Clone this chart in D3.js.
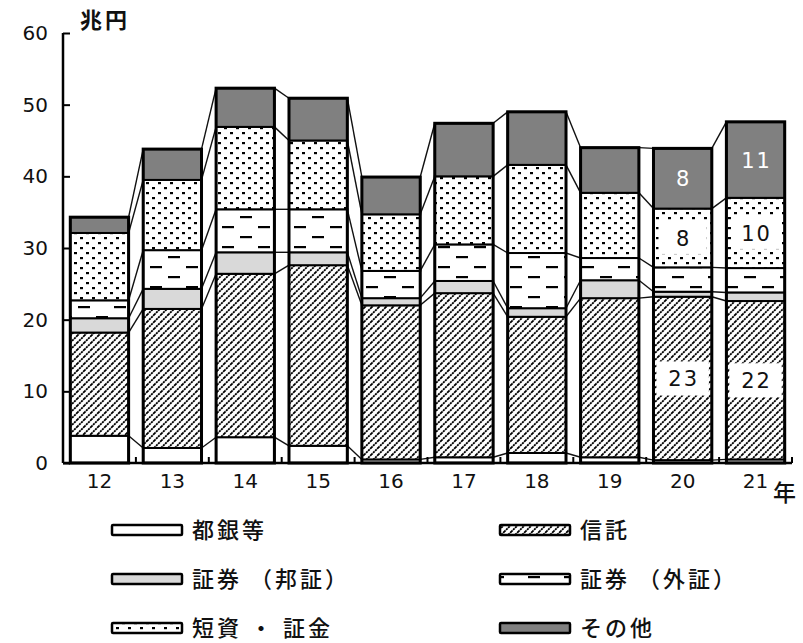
<!DOCTYPE html>
<html><head><meta charset="utf-8">
<script src="https://cdn.jsdelivr.net/npm/d3@7"></script>
<style>
body{margin:0;background:#fff;}
svg{display:block;}
</style></head>
<body>
<svg id="chart" width="803" height="643"></svg>
<script>
// ---- data ----
const years = ["12","13","14","15","16","17","18","19","20","21"];
const seriesKeys = ["togin","shintaku","hosho","gaisho","tanshi","other"];
const legendLabels = ["都銀等","信託","証券 （邦証）","証券 （外証）","短資 ・ 証金","その他"];
const togin    = [3.8, 2.1, 3.6, 2.4, 0.5, 0.8, 1.4, 0.8, 0.4, 0.5];
const shintaku = [14.4,19.4,22.8,25.2,21.5,22.9,19.0,22.2,22.8,22.1];
const hosho    = [2.0, 2.8, 3.0, 1.8, 1.0, 1.7, 1.2, 2.5, 0.7, 1.2];
const gaisho   = [2.5, 5.4, 6.0, 6.0, 3.8, 5.1, 7.7, 3.1, 3.4, 3.4];
const tanshi   = [9.4, 9.8, 11.5,9.6, 7.9, 9.5, 12.3,9.1, 8.2, 9.8];
const other    = [2.2, 4.3, 5.4, 5.9, 5.2, 7.4, 7.4, 6.3, 8.4, 10.6];
const yTicks = [0,10,20,30,40,50,60];
const labelYears = ["20","21"];
const labelSeries = ["shintaku","tanshi","other"];
const yUnit = "兆円";
const xUnit = "年";

const seriesValues = {togin, shintaku, hosho, gaisho, tanshi, other};
const rows = years.map((y,i)=>{
  const r = {year:y};
  seriesKeys.forEach(k=>r[k]=seriesValues[k][i]);
  return r;
});

// ---- setup ----
const svg = d3.select("#chart");
const x = d3.scaleBand().domain(years).range([63,792]).paddingInner(0.2).paddingOuter(0.1);
const y = d3.scaleLinear().domain([0,60]).range([463,33]);
const numFont = "'DejaVu Sans', Verdana, sans-serif";

const defs = svg.append("defs");
// hatch for 信託
const ph = defs.append("pattern").attr("id","p-shintaku").attr("patternUnits","userSpaceOnUse")
  .attr("width",7).attr("height",7);
ph.append("rect").attr("width",7).attr("height",7).attr("fill","#fff");
ph.append("path").attr("d","M-1,1 l2,-2 M0,7 l7,-7 M6,8 l2,-2")
  .attr("stroke","#000").attr("stroke-width",1.8).attr("stroke-dasharray","2.2,0.7");
// dashes for 外証
const pg = defs.append("pattern").attr("id","p-gaisho").attr("patternUnits","userSpaceOnUse")
  .attr("width",36).attr("height",20).attr("x",4).attr("y",2);
pg.append("rect").attr("width",36).attr("height",20).attr("fill","#fff");
pg.append("rect").attr("x",2).attr("y",4).attr("width",12).attr("height",2.2).attr("fill","#000");
pg.append("rect").attr("x",20).attr("y",14).attr("width",12).attr("height",2.2).attr("fill","#000");
// dots for 短資
const pd = defs.append("pattern").attr("id","p-tanshi").attr("patternUnits","userSpaceOnUse")
  .attr("width",12).attr("height",10);
pd.append("rect").attr("width",12).attr("height",10).attr("fill","#fff");
pd.append("rect").attr("x",2).attr("y",2).attr("width",3).attr("height",2.2).attr("fill","#000");
pd.append("rect").attr("x",8).attr("y",7).attr("width",3).attr("height",2.2).attr("fill","#000");

const fills = {
  togin:"#ffffff",
  shintaku:"url(#p-shintaku)",
  hosho:"#d9d9d9",
  gaisho:"url(#p-gaisho)",
  tanshi:"url(#p-tanshi)",
  other:"#808080"
};

const stacked = d3.stack().keys(seriesKeys)(rows);

// ---- connectors ----
const conn = svg.append("g").attr("stroke","#111").attr("stroke-width",1.4).attr("fill","none");
stacked.forEach(layer=>{
  for(let i=0;i<years.length-1;i++){
    const a = layer[i], b = layer[i+1];
    conn.append("line")
      .attr("x1", x(years[i])+x.bandwidth()).attr("y1", y(a[1]))
      .attr("x2", x(years[i+1])).attr("y2", y(b[1]));
  }
});

// ---- bars ----
const gBars = svg.append("g");
stacked.forEach(layer=>{
  gBars.append("g").selectAll("rect").data(layer).join("rect")
    .attr("x", d=>x(d.data.year))
    .attr("y", d=>y(d[1]))
    .attr("width", x.bandwidth())
    .attr("height", d=>y(d[0])-y(d[1]))
    .attr("fill", fills[layer.key])
    .attr("stroke","#000").attr("stroke-width",2);
});
// outer outlines
gBars.append("g").selectAll("rect").data(stacked[stacked.length-1]).join("rect")
  .attr("x", d=>x(d.data.year))
  .attr("y", d=>y(d[1]))
  .attr("width", x.bandwidth())
  .attr("height", d=>y(0)-y(d[1]))
  .attr("fill","none").attr("stroke","#000").attr("stroke-width",3);

// ---- value labels ----
const gLab = svg.append("g").attr("font-family",numFont)
  .attr("font-size",21).attr("text-anchor","middle");
stacked.filter(l=>labelSeries.includes(l.key)).forEach(layer=>{
  layer.filter(d=>labelYears.includes(d.data.year)).forEach(d=>{
    const cx = x(d.data.year)+x.bandwidth()/2;
    const cy = (y(d[0])+y(d[1]))/2;
    const txt = String(Math.round(d[1]-d[0]));
    const isOther = layer.key==="other";
    if(!isOther){
      const w = layer.key==="shintaku" ? x.bandwidth()-6 : x.bandwidth()-10;
      const h = layer.key==="shintaku" ? 34 : 32;
      gLab.append("rect").attr("x",cx-w/2).attr("y",cy-h/2).attr("width",w).attr("height",h).attr("fill","#fff");
    }
    gLab.append("text").attr("x",cx+1).attr("y",cy+8).attr("letter-spacing",2)
      .attr("fill", isOther?"#fff":"#111").text(txt);
  });
});

// ---- axes ----
const gY = svg.append("g").attr("transform","translate(63,0)");
gY.call(d3.axisRight(y).tickValues(yTicks).tickSize(7).tickFormat(""));
gY.select(".domain").attr("stroke","#000").attr("stroke-width",2.5).attr("d","M0,33V463");
gY.selectAll(".tick line").attr("stroke","#000").attr("stroke-width",2);
svg.append("g").selectAll("text").data(yTicks).join("text")
  .attr("x",48).attr("y",d=>y(d)+7).attr("text-anchor","end")
  .attr("font-family",numFont).attr("font-size",20).attr("fill","#111")
  .text(d=>d);

const gX = svg.append("g").attr("transform","translate(0,463)");
gX.call(d3.axisBottom(x).tickSize(0).tickPadding(11));
gX.select(".domain").attr("stroke","#000").attr("stroke-width",2.5).attr("d","M63,0H792");
gX.selectAll(".tick text").attr("font-family",numFont)
  .attr("font-size",20).attr("fill","#111").attr("dy","0.72em");
// boundary ticks (upward)
const step = x.step();
gX.append("g").selectAll("line").data(years.slice(1).concat(["end"])).join("line")
  .attr("x1", d=> d==="end" ? 792 : x(d)-x.paddingInner()*step/2)
  .attr("x2", d=> d==="end" ? 792 : x(d)-x.paddingInner()*step/2)
  .attr("y1",0).attr("y2",-6).attr("stroke","#000").attr("stroke-width",2);

svg.append("text").attr("x",80).attr("y",28).attr("font-family","'Noto Sans CJK JP', sans-serif")
  .attr("font-size",22).attr("font-weight",700).attr("letter-spacing",3).attr("fill","#111").text(yUnit);
svg.append("text").attr("x",773).attr("y",501).attr("font-family","'Noto Sans CJK JP', sans-serif")
  .attr("font-size",23).attr("font-weight",500).attr("fill","#111").text(xUnit);

// ---- legend ----
const legCols = [112, 500];
const legRows = [530, 579, 628];
const gL = svg.append("g");
seriesKeys.forEach((k,i)=>{
  const lx = legCols[i%2], ly = legRows[Math.floor(i/2)];
  gL.append("rect").attr("x",lx).attr("y",ly-5).attr("width",70).attr("height",10)
    .attr("fill",fills[k]).attr("stroke","#000").attr("stroke-width",2.5).attr("rx",1);
  gL.append("text").attr("x",lx+80).attr("y",ly+8)
    .attr("font-family","'Noto Sans CJK JP', sans-serif").attr("font-size",22).attr("font-weight",500)
    .attr("letter-spacing",3).attr("fill","#111").text(legendLabels[i]);
});
</script>
</body></html>
